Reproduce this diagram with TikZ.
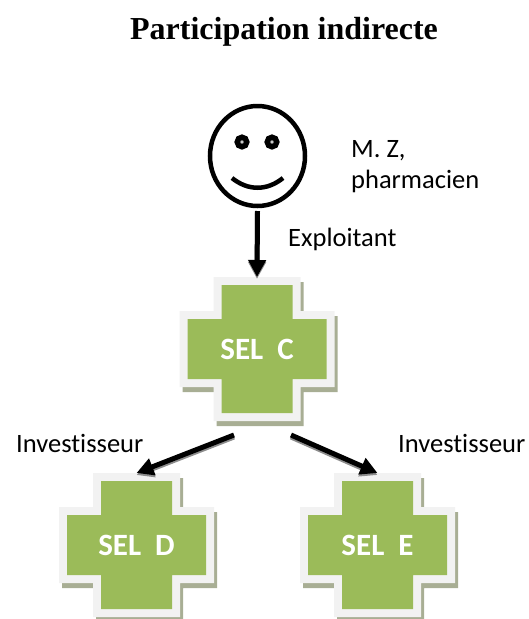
\documentclass[tikz,border=0pt]{standalone}
\usepackage{fontspec}
\setmainfont{Carlito}[RawFeature={-liga;-clig;-dlig}]
\newfontfamily\titlefont{Liberation Serif}
\usetikzlibrary{arrows.meta,calc,shapes.geometric}
\definecolor{selgreen}{HTML}{9BBB59}
\definecolor{selrim}{HTML}{F2F2F2}
\definecolor{selshadow}{HTML}{A8AE94}
\definecolor{linkshadow}{HTML}{8C8C8C}
\tikzset{
  x=1pt,y=-1pt,
  selbox/.style={minimum width=155pt,minimum height=144pt,inner sep=0pt,outer sep=0pt,text=white,font=\fontsize{31}{33}\selectfont\bfseries},
  person/.style={ellipse,draw=black,line width=4.5pt,minimum width=95pt,minimum height=100pt,inner sep=0pt,outer sep=5pt},
  eye/.style={circle,draw=black,line width=5.5pt,fill=gray!40,minimum size=9.5pt,inner sep=0pt},
  link/.style={line width=5pt,-{Triangle[length=17pt,width=17pt]},black},
  linkshade/.style={line width=5pt,-{Triangle[length=17pt,width=17pt]},linkshadow},
  caption/.style={font=\fontsize{26.5}{31}\selectfont,text=black,inner sep=0pt,anchor=base west},
}
\newcommand{\crossshape}[4]{% cx, cy, extra, style
  \path[#4] (#1-35.5-#3,#2-64-#3) -| (#1+35.5+#3,#2-30-#3) -| (#1+69.5+#3,#2+30+#3) -| (#1+35.5+#3,#2+64+#3) -| (#1-35.5-#3,#2+30+#3) -| (#1-69.5-#3,#2-30-#3) -| cycle;
}
\newcommand{\selcross}[2]{%
  \crossshape{#1+3}{#2+5}{8}{fill=selshadow}
  \crossshape{#1}{#2}{8}{fill=selrim}
  \crossshape{#1}{#2}{0}{fill=selgreen}
}
\begin{document}
\begin{tikzpicture}
\useasboundingbox (0,0) rectangle (529,619);
\selcross{257}{349}
\selcross{136.5}{545}
\selcross{377.5}{545}
\node[selbox] (c) at (257,349) {SEL\ \ C};
\node[selbox] (d) at (136.5,545) {SEL\ \ D};
\node[selbox] (e) at (377.5,545) {SEL\ \ E};
\node[person] (z) at (257.5,156) {};
\node[eye] (eyeL) at (242,142) {};
\node[eye] (eyeR) at (272,142) {};
\coordinate (mouthL) at (232,178);
\coordinate (mouthR) at (283,178);
\draw[line width=4.5pt] (mouthL) .. controls (248,191) and (267,191) .. (mouthR);
\coordinate (cL) at (234,435);
\coordinate (cR) at (291,435);
\draw[linkshade] ($(z.south)+(0,2)$) -- ($(c.north)+(0,2)$);
\draw[linkshade] ($(cL)+(0,2)$) -- ($(d.north)+(0,2)$);
\draw[linkshade] ($(cR)+(0,2)$) -- ($(e.north)+(0,2)$);
\draw[link] (z.south) -- (c.north);
\draw[link] (cL) -- (d.north);
\draw[link] (cR) -- (e.north);
\node[font=\titlefont\bfseries\fontsize{32}{34}\selectfont,inner sep=0pt,anchor=base] (title) at (284,39) {Participation indirecte};
\node[caption,align=left] (nom) at (351,188) {M. Z,\\pharmacien};
\node[caption] (ex) at (288,246) {Exploitant};
\node[caption] (i1) at (16,452) {Investisseur};
\node[caption] (i2) at (398,452) {Investisseur};
\end{tikzpicture}
\end{document}
